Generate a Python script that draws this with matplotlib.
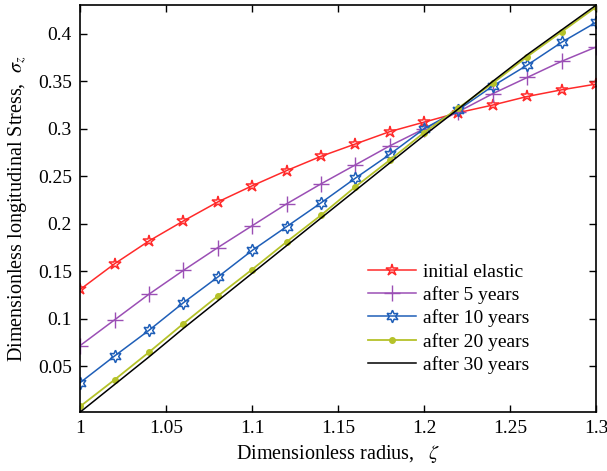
import numpy as np
import matplotlib
matplotlib.use('Agg')
import matplotlib.pyplot as plt
from matplotlib.ticker import FuncFormatter

# data
zeta = [1.00, 1.02, 1.04, 1.06, 1.08, 1.10, 1.12, 1.14, 1.16, 1.18,
        1.20, 1.22, 1.24, 1.26, 1.28, 1.30]
elastic = [0.131, 0.158, 0.182, 0.203, 0.223, 0.240, 0.256, 0.271, 0.284, 0.297,
           0.307, 0.317, 0.325, 0.334, 0.341, 0.347]
yr5 = [0.072, 0.099, 0.126, 0.151, 0.175, 0.198, 0.221, 0.242, 0.262, 0.282,
       0.300, 0.318, 0.337, 0.354, 0.371, 0.386]
yr10 = [0.033, 0.061, 0.088, 0.117, 0.144, 0.172, 0.197, 0.222, 0.248, 0.273,
        0.300, 0.320, 0.345, 0.367, 0.391, 0.412]
yr20 = [0.008, 0.036, 0.065, 0.095, 0.124, 0.152, 0.181, 0.209, 0.239, 0.267,
        0.296, 0.322, 0.348, 0.376, 0.402, 0.428]
yr30 = [0.002, 0.031, 0.060, 0.090, 0.119, 0.148, 0.177, 0.206, 0.235, 0.264,
        0.293, 0.321, 0.350, 0.378, 0.404, 0.430]
labels = ['initial elastic', 'after 5 years', 'after 10 years', 'after 20 years', 'after 30 years']

plt.rcParams['font.family'] = 'Liberation Serif'
plt.rcParams['mathtext.fontset'] = 'stix'

fig = plt.figure(figsize=(6.07, 4.71), dpi=100)
ax = fig.add_axes([0.132, 0.125, 0.850, 0.864])

ax.plot(zeta, elastic, color='#ff2a2a', lw=1.1, marker='*', ms=9, mfc='none', mew=1.1, label=labels[0])
ax.plot(zeta, yr5, color='#9b4fb5', lw=1.1, marker='+', ms=11, mew=1.0, label=labels[1])
ax.plot(zeta, yr10, color='#1f5fb8', lw=1.1, marker=(6, 1, 0), ms=9, mfc='none', mew=1.1, label=labels[2])
ax.plot(zeta, yr20, color='#b5c22a', lw=1.3, marker='o', ms=4, label=labels[3])
ax.plot(zeta, yr30, color='black', lw=1.1, label=labels[4])

ax.set_xlim(1.0, 1.3)
ax.set_ylim(0.002, 0.43)
ax.set_xticks(np.arange(1.0, 1.301, 0.05))
ax.set_yticks(np.arange(0.05, 0.401, 0.05))
ax.xaxis.set_major_formatter(FuncFormatter(lambda v, p: '%g' % round(v, 2)))
ax.yaxis.set_major_formatter(FuncFormatter(lambda v, p: '%g' % round(v, 2)))
ax.tick_params(direction='in', top=True, right=True, length=5, width=1, labelsize=14, pad=6)
for s in ax.spines.values():
    s.set_linewidth(1.2)

ax.set_xlabel(r'Dimensionless radius,   $\zeta$', fontsize=14.5, labelpad=4)
ax.set_ylabel(r'Dimensionless longitudinal Stress,  $\sigma_z$', fontsize=14.5, labelpad=6)

ax.legend(loc='lower right', bbox_to_anchor=(0.89, 0.07), frameon=False, fontsize=14,
          handlelength=2.5, handletextpad=0.35, labelspacing=0.28, borderpad=0)

fig.savefig('out.png', dpi=100)
